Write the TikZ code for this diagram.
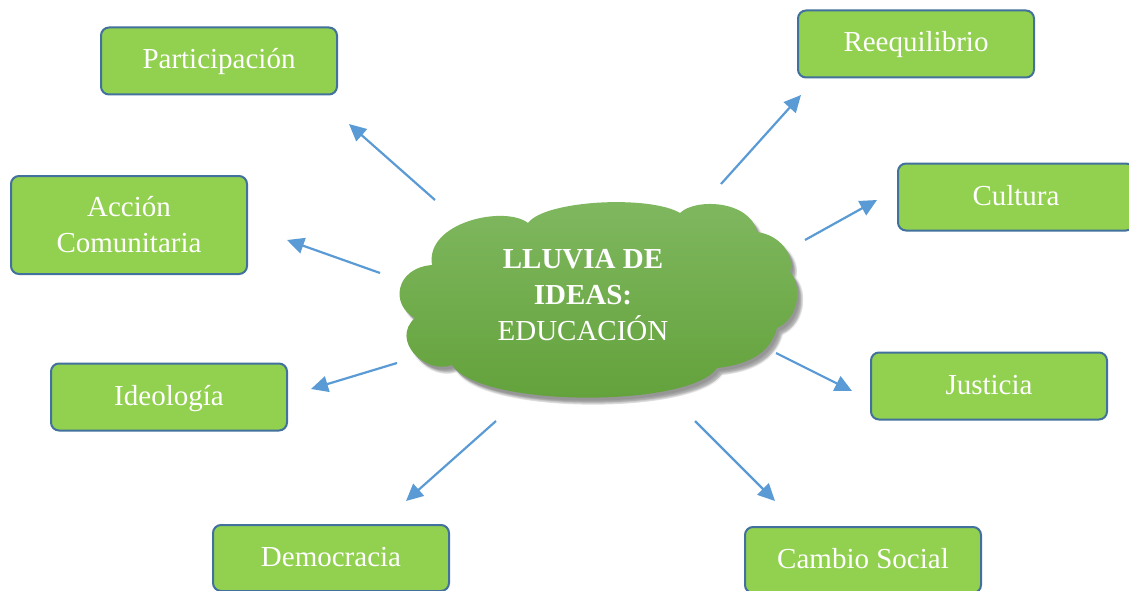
\documentclass[tikz,border=0pt]{standalone}
\usepackage{fontspec}
\setmainfont{Liberation Serif}
\usetikzlibrary{arrows.meta}
\definecolor{boxfill}{HTML}{92D050}
\definecolor{boxborder}{HTML}{41719C}
\definecolor{arrowblue}{HTML}{5B9BD5}
\definecolor{cloudtop}{HTML}{80B860}
\definecolor{cloudbot}{HTML}{62A13A}
\begin{document}
\begin{tikzpicture}[x=1pt,y=-1pt,
  boxbase/.style={draw=boxborder, line width=2pt, fill=boxfill, rounded corners=8pt,
    minimum width=236pt, minimum height=67pt, text=white,
    font=\fontsize{29}{36}\selectfont, align=center, inner sep=0pt},
  box/.style={boxbase, text height=21pt, text depth=5pt},
  arr/.style={-{Triangle[length=17pt,width=16pt]}, line width=2.2pt, draw=arrowblue},
  cloudtext/.style={text=white, font=\fontsize{29}{36}\selectfont, align=center, inner sep=0pt},
  cloudshadow/.style={fill=black, opacity=0.07}]
\useasboundingbox (0,0) rectangle (1129,591);
\fill[white] (0,0) rectangle (1129,591);
\def\cloudpath{(432,265) .. controls (425,222) and (505,205) .. (528,223)
  .. controls (545,200) and (650,195) .. (680,213)
  .. controls (695,198) and (750,200) .. (757,232)
  .. controls (780,235) and (795,255) .. (790,272)
  .. controls (802,285) and (800,318) .. (777,328)
  .. controls (770,355) and (745,365) .. (717,368)
  .. controls (690,408) and (480,408) .. (452,365)
  .. controls (425,375) and (390,340) .. (415,318)
  .. controls (390,305) and (395,268) .. (432,265) -- cycle}
% cloud soft shadow
\foreach \dx/\dy in {2/3,3/4,4/5,5/6,6/7,4/7,6/5}
  \fill[cloudshadow, shift={(\dx,\dy)}] \cloudpath;
% cloud
\shade[top color=cloudtop, bottom color=cloudbot] \cloudpath;
\node[cloudtext] (center) at (583,295) {\textbf{LLUVIA DE}\\\textbf{IDEAS:}\\EDUCACIÓN};
% boxes
\node[box] (part) at (219,61) {Participación};
\node[boxbase, minimum height=98pt] (acc) at (129,225) {Acción\\Comunitaria};
\node[box] (ideo) at (169,397) {Ideología};
\node[box, minimum height=66pt] (demo) at (331,558) {Democracia};
\node[box] (reeq) at (916,44) {Reequilibrio};
\node[box] (cult) at (1016,197) {Cultura};
\node[box] (just) at (989,386) {Justicia};
\node[box, minimum height=66pt] (camb) at (863,560) {Cambio Social};
% arrow endpoints
\coordinate (s1) at (435,200); \coordinate (e1) at (349,124);
\coordinate (s2) at (380,273); \coordinate (e2) at (287,240);
\coordinate (s3) at (397,363); \coordinate (e3) at (311,389);
\coordinate (s4) at (496,421); \coordinate (e4) at (406,501);
\coordinate (s5) at (721,184); \coordinate (e5) at (801,95);
\coordinate (s6) at (805,240); \coordinate (e6) at (877,200);
\coordinate (s7) at (776,353); \coordinate (e7) at (852,391);
\coordinate (s8) at (695,421); \coordinate (e8) at (775,501);
\foreach \i in {1,...,8} \draw[arr] (s\i) -- (e\i);
\end{tikzpicture}
\end{document}
